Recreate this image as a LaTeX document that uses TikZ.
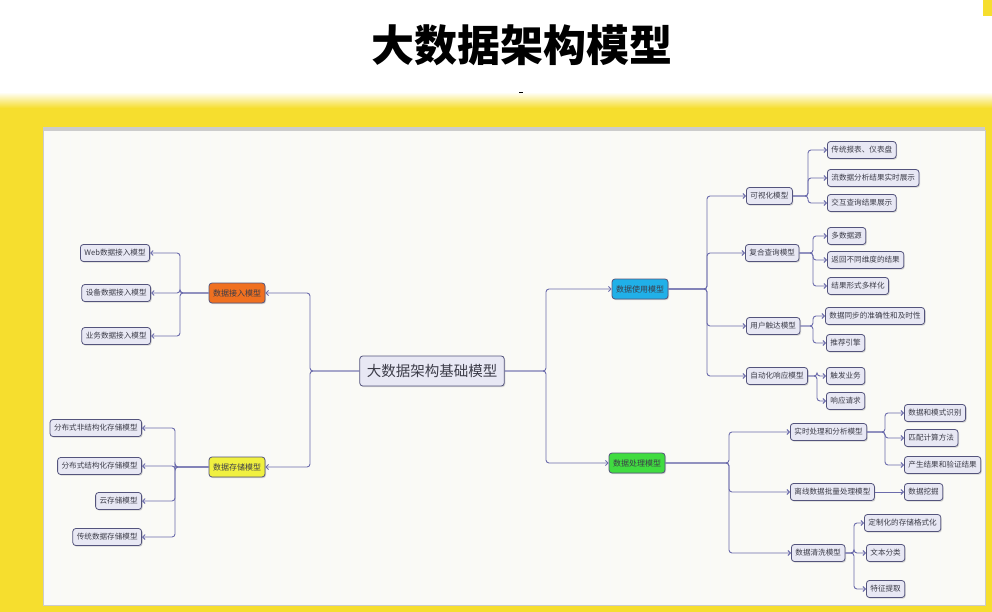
\documentclass[tikz,border=0pt]{standalone}
\usepackage{fontspec}
\setmainfont{Noto Sans CJK SC}
\usetikzlibrary{positioning,calc,shadows,arrows.meta}
\definecolor{linkslate}{RGB}{108,108,172}
\definecolor{boxedge}{RGB}{84,84,124}
\definecolor{boxfill}{RGB}{232,232,244}
\definecolor{bandyellow}{RGB}{246,222,46}
\definecolor{panelcream}{RGB}{250,250,246}
\definecolor{accorange}{RGB}{240,112,32}
\definecolor{storeyellow}{RGB}{240,240,64}
\definecolor{usecyan}{RGB}{32,176,232}
\definecolor{procgreen}{RGB}{64,220,64}
\definecolor{textgray}{RGB}{60,60,72}

\begin{document}
\begin{tikzpicture}[x=1pt,y=-1pt,
    box/.style={draw=boxedge,fill=boxfill,rounded corners=3pt,line width=0.8pt,text=textgray,
      font=\fontsize{7.6}{9}\selectfont,inner xsep=4pt,inner ysep=2pt,minimum height=17pt,
      drop shadow={shadow xshift=1pt,shadow yshift=-1.2pt,fill=black!30}},
    hub/.style={box,font=\fontsize{8}{10}\selectfont,minimum height=20pt},
    rootbox/.style={box,font=\fontsize{14.5}{16}\selectfont,minimum height=30pt,inner xsep=7pt},
    link/.style={draw=linkslate,line width=0.9pt,rounded corners=3pt,-{Straight Barb[length=2.5pt,width=5pt]}}]
    \useasboundingbox (0,0) rectangle (992,612);
    % page, yellow band and panel
    \fill[white] (0,0) rectangle (992,612);
    \shade[top color=white,bottom color=bandyellow] (0,92) rectangle (992,108);
    \fill[bandyellow] (0,108) rectangle (992,612);
    \fill[bandyellow] (983,0) rectangle (992,16);
    \fill[black!20] (43,127) rectangle (985,131);
    \fill[panelcream] (43,130) rectangle (985,605);
    \draw[black!2.5,line width=0.3pt,step=10] (43,130) grid (985,605);
    \draw[black!20] (43,130) rectangle (985,605);
    \node[font=\fontsize{43}{48}\selectfont\bfseries] (title) at (522,45) {大数据架构模型};
    \draw[black,line width=0.8pt] (519,92) -- (523,92);

    % root and first level
    \node[rootbox] (root) at (432,371) {大数据架构基础模型};
    \node[hub,fill=accorange] (acc) at (237,293) {数据接入模型};
    \node[hub,fill=storeyellow] (sto) at (237,467) {数据存储模型};
    \node[hub,fill=usecyan] (use) at (640,289) {数据使用模型};
    \node[hub,fill=procgreen] (proc) at (637,463) {数据处理模型};

    % left leaves
    \node[box,anchor=east] (acc1) at (150,253) {Web数据接入模型};
    \node[box,anchor=east] (acc2) at (151,293) {设备数据接入模型};
    \node[box,anchor=east] (acc3) at (151,336) {业务数据接入模型};
    \node[box,anchor=east] (sto1) at (142,428) {分布式非结构化存储模型};
    \node[box,anchor=east] (sto2) at (142,466) {分布式结构化存储模型};
    \node[box,anchor=east] (sto3) at (142,501) {云存储模型};
    \node[box,anchor=east] (sto4) at (142,537) {传统数据存储模型};

    % right second level
    \node[box,anchor=west] (viz) at (746,196) {可视化模型};
    \node[box,anchor=west] (qry) at (745,253) {复合查询模型};
    \node[box,anchor=west] (reach) at (746,326) {用户触达模型};
    \node[box,anchor=west] (auto) at (746,376) {自动化响应模型};
    \node[box,anchor=west] (rt) at (790,432) {实时处理和分析模型};
    \node[box,anchor=west] (off) at (790,492) {离线数据批量处理模型};
    \node[box,anchor=west] (clean) at (791,553) {数据清洗模型};

    % right leaves
    \node[box,anchor=west] (viz1) at (827,150) {传统报表、仪表盘};
    \node[box,anchor=west] (viz2) at (827,178) {流数据分析结果实时展示};
    \node[box,anchor=west] (viz3) at (827,203) {交互查询结果展示};
    \node[box,anchor=west] (qry1) at (827,236) {多数据源};
    \node[box,anchor=west] (qry2) at (827,260) {返回不同维度的结果};
    \node[box,anchor=west] (qry3) at (827,286) {结果形式多样化};
    \node[box,anchor=west] (reach1) at (825,316) {数据同步的准确性和及时性};
    \node[box,anchor=west] (reach2) at (826,343) {推荐引擎};
    \node[box,anchor=west] (auto1) at (826,376) {触发业务};
    \node[box,anchor=west] (auto2) at (826,401) {响应请求};
    \node[box,anchor=west] (rt1) at (904,413) {数据和模式识别};
    \node[box,anchor=west] (rt2) at (904,438) {匹配计算方法};
    \node[box,anchor=west] (rt3) at (904,465) {产生结果和验证结果};
    \node[box,anchor=west] (off1) at (904,492) {数据挖掘};
    \node[box,anchor=west] (clean1) at (864,523) {定制化的存储格式化};
    \node[box,anchor=west] (clean2) at (866,553) {文本分类};
    \node[box,anchor=west] (clean3) at (866,589) {特征提取};

    % junctions
    \coordinate (jl) at (310,371);
    \coordinate (jr) at (546,371);
    \coordinate (jacc) at (180,293);
    \coordinate (jsto) at (175,467);
    \coordinate (juse) at (707,289);
    \coordinate (jproc) at (729,463);
    \coordinate (jviz) at (808,196);
    \coordinate (jqry) at (813,253);
    \coordinate (jreach) at (813,326);
    \coordinate (jauto) at (817,376);
    \coordinate (jrt) at (885,432);
    \coordinate (jclean) at (854,553);

    % connectors
    \foreach \n in {acc,sto} \draw[link] (root.west) -- (jl) |- (\n.east);
    \foreach \n in {use,proc} \draw[link] (root.east) -- (jr) |- (\n.west);
    \foreach \n in {acc1,acc2,acc3} \draw[link] (acc.west) -- (jacc) |- (\n.east);
    \foreach \n in {sto1,sto2,sto3,sto4} \draw[link] (sto.west) -- (jsto) |- (\n.east);
    \foreach \n in {viz,qry,reach,auto} \draw[link] (use.east) -- (juse) |- (\n.west);
    \foreach \n in {rt,off,clean} \draw[link] (proc.east) -- (jproc) |- (\n.west);
    \foreach \n in {viz1,viz2,viz3} \draw[link] (viz.east) -- (jviz) |- (\n.west);
    \foreach \n in {qry1,qry2,qry3} \draw[link] (qry.east) -- (jqry) |- (\n.west);
    \foreach \n in {reach1,reach2} \draw[link] (reach.east) -- (jreach) |- (\n.west);
    \foreach \n in {auto1,auto2} \draw[link] (auto.east) -- (jauto) |- (\n.west);
    \foreach \n in {rt1,rt2,rt3} \draw[link] (rt.east) -- (jrt) |- (\n.west);
    \draw[link] (off.east) -- (off1.west);
    \foreach \n in {clean1,clean2,clean3} \draw[link] (clean.east) -- (jclean) |- (\n.west);
\end{tikzpicture}
\end{document}
